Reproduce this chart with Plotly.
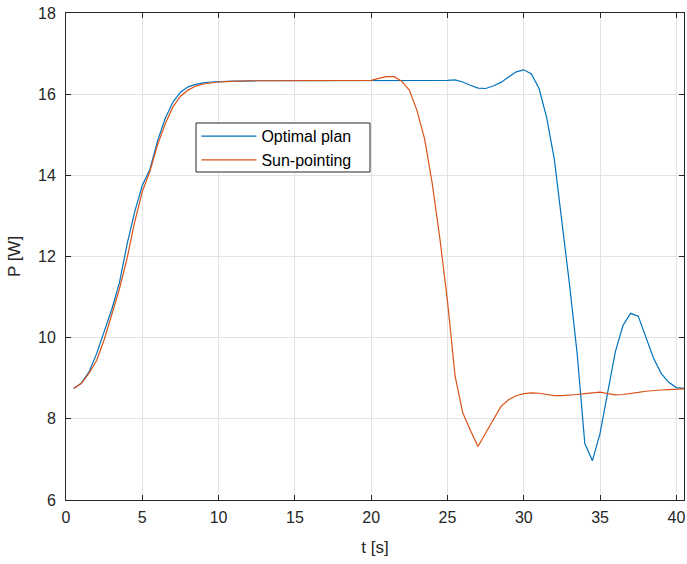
import plotly.graph_objects as go

# time samples [s]
t = [0.5, 1.0, 1.5, 2.0, 2.5, 3.0, 3.5, 4.0, 4.5, 5.0,
     5.5, 6.0, 6.5, 7.0, 7.5, 8.0, 8.5, 9.0, 9.5, 10.0,
     10.5, 11.0, 11.5, 12.0, 12.5, 13.0, 13.5, 14.0, 14.5, 15.0,
     15.5, 16.0, 16.5, 17.0, 17.5, 18.0, 18.5, 19.0, 19.5, 20.0,
     20.5, 21.0, 21.5, 22.0, 22.5, 23.0, 23.5, 24.0, 24.5, 25.0,
     25.5, 26.0, 26.5, 27.0, 27.5, 28.0, 28.5, 29.0, 29.5, 30.0,
     30.5, 31.0, 31.5, 32.0, 32.5, 33.0, 33.5, 34.0, 34.5, 35.0,
     35.5, 36.0, 36.5, 37.0, 37.5, 38.0, 38.5, 39.0, 39.5, 40.0,
     40.5]

# Power, optimal plan [W]
p_optimal = [8.75, 8.88, 9.15, 9.6, 10.15, 10.7, 11.35, 12.3, 13.1, 13.75,
             14.15, 14.85, 15.4, 15.8, 16.05, 16.18, 16.24, 16.28, 16.3, 16.31,
             16.32, 16.32, 16.32, 16.33, 16.33, 16.33, 16.33, 16.33, 16.33, 16.33,
             16.33, 16.33, 16.33, 16.33, 16.33, 16.33, 16.33, 16.33, 16.33, 16.33,
             16.33, 16.33, 16.33, 16.33, 16.33, 16.33, 16.33, 16.33, 16.33, 16.34,
             16.35, 16.3, 16.22, 16.15, 16.14, 16.2, 16.29, 16.42, 16.55, 16.6,
             16.5, 16.14, 15.42, 14.4, 12.9, 11.3, 9.6, 7.39, 6.97, 7.64,
             8.65, 9.65, 10.3, 10.6, 10.53, 10.02, 9.5, 9.12, 8.9, 8.77,
             8.75]

# Power, sun-pointing [W]
p_sun = [8.75, 8.87, 9.12, 9.43, 9.95, 10.55, 11.2, 11.95, 12.85, 13.6,
         14.1, 14.75, 15.27, 15.68, 15.95, 16.1, 16.2, 16.25, 16.28, 16.3,
         16.31, 16.32, 16.32, 16.33, 16.33, 16.33, 16.33, 16.33, 16.33, 16.33,
         16.33, 16.33, 16.33, 16.33, 16.33, 16.33, 16.33, 16.33, 16.33, 16.34,
         16.39, 16.43, 16.43, 16.32, 16.1, 15.6, 14.9, 13.8, 12.45, 10.9,
         9.05, 8.15, 7.72, 7.32, 7.65, 7.97, 8.3, 8.47, 8.57, 8.62,
         8.64, 8.63, 8.6, 8.57, 8.57, 8.58, 8.6, 8.62, 8.64, 8.66,
         8.62, 8.59, 8.6, 8.62, 8.65, 8.68, 8.7, 8.71, 8.72, 8.73,
         8.74]

x_ticks = [0, 5, 10, 15, 20, 25, 30, 35, 40]
y_ticks = [6, 8, 10, 12, 14, 16, 18]

FONT = "Liberation Sans, Arial, Helvetica, sans-serif"
INK = "#262626"

fig = go.Figure()
fig.add_trace(go.Scatter(x=t, y=p_optimal, mode="lines", name="Optimal plan",
                         line=dict(color="#0072BD", width=1.2)))
fig.add_trace(go.Scatter(x=t, y=p_sun, mode="lines", name="Sun-pointing",
                         line=dict(color="#D95319", width=1.2)))

axis_common = dict(
    showline=True, linecolor=INK, linewidth=1, mirror="ticks",
    ticks="inside", ticklen=5, tickcolor=INK, tickwidth=1,
    showgrid=True, gridcolor="#e3e3e3", gridwidth=1,
    zeroline=False, ticklabeloverflow="allow",
    tickfont=dict(family=FONT, size=16, color=INK),
)

fig.update_xaxes(range=[0, 40.5], tickvals=x_ticks, ticklabelstandoff=3,
                 title=dict(text="t [s]", font=dict(family=FONT, size=17, color=INK), standoff=15),
                 **axis_common)
fig.update_yaxes(range=[6, 18], tickvals=y_ticks, ticklabelstandoff=6,
                 title=dict(text="P [W]", font=dict(family=FONT, size=17, color=INK), standoff=13),
                 **axis_common)

# legend frame drawn as a white box (legend entries sit on top of it)
fig.add_shape(type="rect", xref="paper", yref="paper",
              x0=0.2104, x1=0.4919, y0=0.6735, y1=0.7741,
              fillcolor="white", line=dict(color=INK, width=1), layer="above")

fig.update_layout(
    width=687, height=564,
    margin=dict(l=66, r=3, t=13, b=64),
    paper_bgcolor="white", plot_bgcolor="white",
    font=dict(family=FONT, size=14, color=INK),
    showlegend=True,
    legend=dict(x=0.211, y=0.782, xanchor="left", yanchor="top",
                bgcolor="rgba(0,0,0,0)", borderwidth=0,
                font=dict(family=FONT, size=16, color="black"),
                itemwidth=55, tracegroupgap=0),
)

fig.write_html("out.html", config={"displayModeBar": False},
               post_script="document.body.style.margin='0px';")
